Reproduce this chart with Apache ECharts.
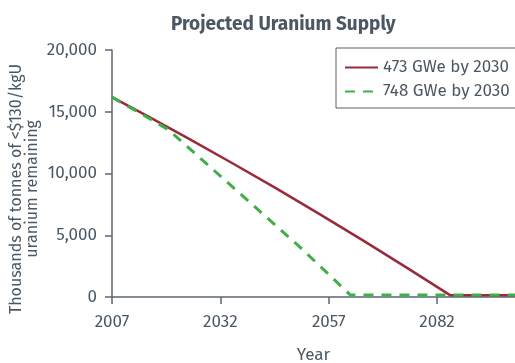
<!DOCTYPE html>
<html>
<head>
<meta charset="utf-8">
<script src="https://cdn.jsdelivr.net/npm/echarts@6/dist/echarts.min.js"></script>
<style>
  html, body { margin: 0; padding: 0; background: #fff; }
  #chart { width: 515px; height: 363px; }
</style>
</head>
<body>
<div id="chart"></div>
<script>
// Remaining uranium supply (thousand tonnes, <$130/kgU) under two growth scenarios
const years473 = [2007, 2015, 2025, 2035, 2045, 2055, 2065, 2075, 2085, 2100];
const supply473 = [16180, 14680, 12760, 10790, 8770, 6690, 4560, 2380, 150, 150];

const years748 = [2007, 2014, 2020, 2030, 2040, 2050, 2062, 2100];
const supply748 = [16180, 14780, 13550, 10420, 7290, 4160, 170, 170];

const seriesNames = ['473 GWe by 2030', '748 GWe by 2030'];
const xTicks = [2007, 2032, 2057, 2082];

const FONT = '"Fira Sans", "Open Sans", "Noto Sans", sans-serif';
const INK = '#4b5863';
const AXIS = '#5b6771';

const pairs = (xs, ys) => xs.map((x, i) => [x, ys[i]]);

const chart = echarts.init(document.getElementById('chart'));
chart.setOption({
  animation: false,
  title: {
    text: 'Projected Uranium Supply',
    left: 166,
    top: 10,
    textStyle: { fontFamily: FONT, fontSize: 19, fontWeight: 'bold', color: INK }
  },
  legend: {
    orient: 'vertical',
    left: 336,
    top: 48,
    padding: [11, 60, 8, 8],
    itemGap: 7,
    itemWidth: 33,
    itemHeight: 17,
    borderColor: '#5b5f63',
    borderWidth: 1,
    itemStyle: { opacity: 0 },
    textStyle: { fontFamily: FONT, fontSize: 17, color: INK },
    data: seriesNames
  },
  grid: {
    left: 112, right: 0, top: 50, bottom: 66,
    containLabel: false,
    outerBoundsMode: 'none'
  },
  xAxis: {
    type: 'value',
    min: 2007,
    max: 2100,
    name: 'Year',
    nameLocation: 'middle',
    nameGap: 50,
    nameTextStyle: { fontFamily: FONT, fontSize: 17, color: INK },
    splitLine: { show: false },
    axisLine: { show: true, lineStyle: { color: AXIS, width: 1.5 } },
    axisTick: { show: true, length: 7, lineStyle: { color: AXIS, width: 1.5 }, customValues: xTicks },
    axisLabel: {
      fontFamily: FONT, fontSize: 17, color: INK, margin: 17,
      customValues: xTicks,
      formatter: v => String(v)
    }
  },
  yAxis: {
    type: 'value',
    min: 0,
    max: 20000,
    interval: 5000,
    splitLine: { show: false },
    axisLine: { show: true, lineStyle: { color: AXIS, width: 1.5 } },
    axisTick: { show: true, length: 7, lineStyle: { color: AXIS, width: 1.5 } },
    axisLabel: {
      fontFamily: FONT, fontSize: 17, color: INK, margin: 15,
      formatter: v => v.toLocaleString('en-US')
    }
  },
  graphic: [{
    type: 'text',
    x: 25,
    y: 189,
    rotation: Math.PI / 2,
    style: {
      text: 'Thousands of tonnes of <$130/kgU\nuranium remaining',
      fontFamily: FONT,
      fontSize: 16,
      lineHeight: 16,
      fill: INK,
      align: 'center',
      verticalAlign: 'middle'
    }
  }],
  series: [
    {
      name: seriesNames[0],
      type: 'line',
      symbol: 'none',
      z: 3,
      data: pairs(years473, supply473),
      lineStyle: { color: '#982b3b', width: 2.5 },
      itemStyle: { color: '#982b3b' }
    },
    {
      name: seriesNames[1],
      type: 'line',
      symbol: 'none',
      z: 4,
      data: pairs(years748, supply748),
      lineStyle: { color: '#3db048', width: 3, type: [10, 8] },
      itemStyle: { color: '#3db048' }
    }
  ]
});
</script>
</body>
</html>
